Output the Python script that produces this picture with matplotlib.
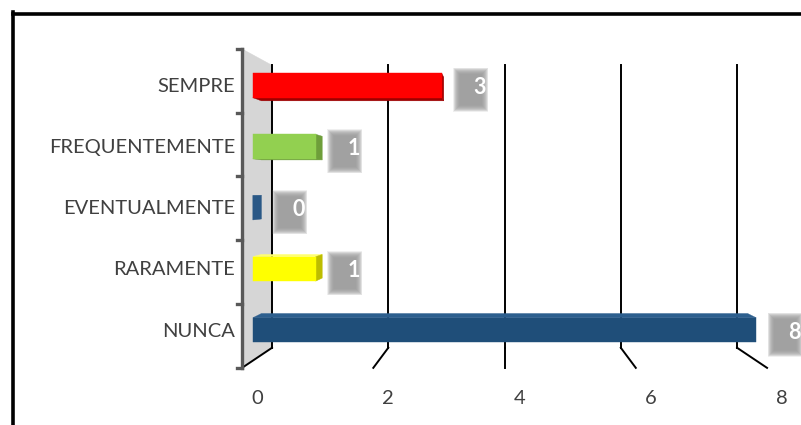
import matplotlib
matplotlib.use('Agg')
import matplotlib.pyplot as plt
from matplotlib.patches import Polygon, Rectangle
from matplotlib.lines import Line2D


categories = ['NUNCA', 'RARAMENTE', 'EVENTUALMENTE', 'FREQUENTEMENTE', 'SEMPRE']
values = [8, 1, 0, 1, 3]
front_colors = ['#1F4E79', '#FFFF00', '#1F4E79', '#92D050', '#FF0000']
top_colors = ['#2D5F8E', '#FFFF70', '#2D5F8E', '#A8DC74', '#FF5050']
side_colors = ['#2A5886', '#BDBD00', '#2A5886', '#6E9E3A', '#9E0000']
x_ticks = [0, 2, 4, 6, 8]

W, H, DPI = 801, 425, 100
X_MAX = 8
# fake perspective: things get bigger from back wall (d=0) to front edge (d=1)
K = 0.129
VX, VY = X_MAX / 2, 2.257
BAR_D0, BAR_D1 = 0.354, 0.64
BAR_H = 0.4

XLIM = (-4.68, 9.10)
YLIM = (-1.867, 5.655)
px_x = (XLIM[1] - XLIM[0]) / W
px_y = (YLIM[1] - YLIM[0]) / H

FONT = ['Lato', 'DejaVu Sans']
TXT = '#404040'


def proj(v, i, d):
	f = 1 + K * d
	return VX + (v - VX) * f, VY + (i - VY) * f


def face(ax, pts, color, z):
	ax.add_patch(Polygon(pts, closed=True, facecolor=color, edgecolor=color, lw=0.3, zorder=z))


def line3d(ax, a, b, **kw):
	ax.add_line(Line2D([a[0], b[0]], [a[1], b[1]], **kw))


fig = plt.figure(figsize=(W / DPI, H / DPI), dpi=DPI)
ax = fig.add_axes([0, 0, 1, 1])
ax.set_xlim(*XLIM)
ax.set_ylim(*YLIM)
ax.axis('off')

lo_cat, hi_cat = -0.5, len(categories) - 0.5

# left wall
wall = [proj(0, lo_cat, 0), proj(0, hi_cat, 0), proj(0, hi_cat, 1), proj(0, lo_cat, 1)]
face(ax, wall, '#D6D6D6', 1)

# gridlines on back wall + floor
for v in x_ticks:
	line3d(ax, proj(v, lo_cat, 0), proj(v, hi_cat, 0), color='black', lw=1.4, zorder=2)
	line3d(ax, proj(v, lo_cat, 0), proj(v, lo_cat, 1), color='black', lw=1.4, zorder=2)

# category axis with ticks
line3d(ax, proj(0, lo_cat, 1), proj(0, hi_cat, 1), color='#595959', lw=2.4, zorder=3)
for k in range(len(categories) + 1):
	x, y = proj(0, lo_cat + k, 1)
	ax.add_line(Line2D([x - 5 * px_x, x], [y, y], color='#595959', lw=2.4, zorder=3))

# bars
for i, (val, fc, tc, sc) in enumerate(zip(values, front_colors, top_colors, side_colors)):
	lo, hi = i - BAR_H / 2, i + BAR_H / 2
	if hi < VY:
		face(ax, [proj(0, hi, BAR_D1), proj(val, hi, BAR_D1), proj(val, hi, BAR_D0), proj(0, hi, BAR_D0)], tc, 4)
	if lo > VY:
		face(ax, [proj(0, lo, BAR_D1), proj(val, lo, BAR_D1), proj(val, lo, BAR_D0), proj(0, lo, BAR_D0)], sc, 4)
	if val < VX:
		face(ax, [proj(val, lo, BAR_D1), proj(val, hi, BAR_D1), proj(val, hi, BAR_D0), proj(val, lo, BAR_D0)], sc, 4)
	if val > 0:
		face(ax, [proj(0, lo, BAR_D1), proj(val, lo, BAR_D1), proj(val, hi, BAR_D1), proj(0, hi, BAR_D1)], fc, 5)

	# category label
	x0, yc = proj(0, i, BAR_D1)
	xa, _ = proj(0, i, 1)
	ax.annotate(categories[i], (xa, yc), xytext=(-7, -1), textcoords='offset pixels',
				ha='right', va='center', fontsize=14.5, color=TXT, family=FONT, zorder=6)

	# data label: gray blurry box + white number
	xe, ye = proj(val, i, BAR_D1)
	if val == 0:
		xe += 8 * px_x
	bx0, bx1 = xe + 15 * px_x, xe + 43 * px_x
	by0, by1 = ye - 23 * px_y, ye + 14 * px_y
	n = 14
	for s in range(n):
		g = 3.5 - s * 0.5
		ax.add_patch(Rectangle((bx0 - g * px_x, by0 - g * px_y), (bx1 - bx0) + 2 * g * px_x,
							   (by1 - by0) + 2 * g * px_y, facecolor='#9A9A9A', edgecolor='none',
							   lw=0, alpha=0.15, zorder=6))
	ax.text(xe + 38 * px_x, ye - 2 * px_y, str(val), ha='center', va='center', fontsize=15.5,
			fontweight='bold', color='white', family=FONT, zorder=7)

# value axis labels under the floor
for v in x_ticks:
	x, y = proj(v, lo_cat, 1)
	ax.annotate(str(v), (x, y), xytext=(15, -31), textcoords='offset pixels',
				ha='center', va='center', fontsize=14.5, color=TXT, family=FONT)

# outer frame (only top and left edges are inside the picture)
fig.add_artist(Line2D([13 / W, 1], [1 - 13.5 / H, 1 - 13.5 / H], transform=fig.transFigure,
					  color='black', lw=2.6))
fig.add_artist(Line2D([13 / W, 13 / W], [0, 1 - 11.5 / H], transform=fig.transFigure,
					  color='black', lw=2.6))

fig.savefig('out.png', dpi=DPI)
